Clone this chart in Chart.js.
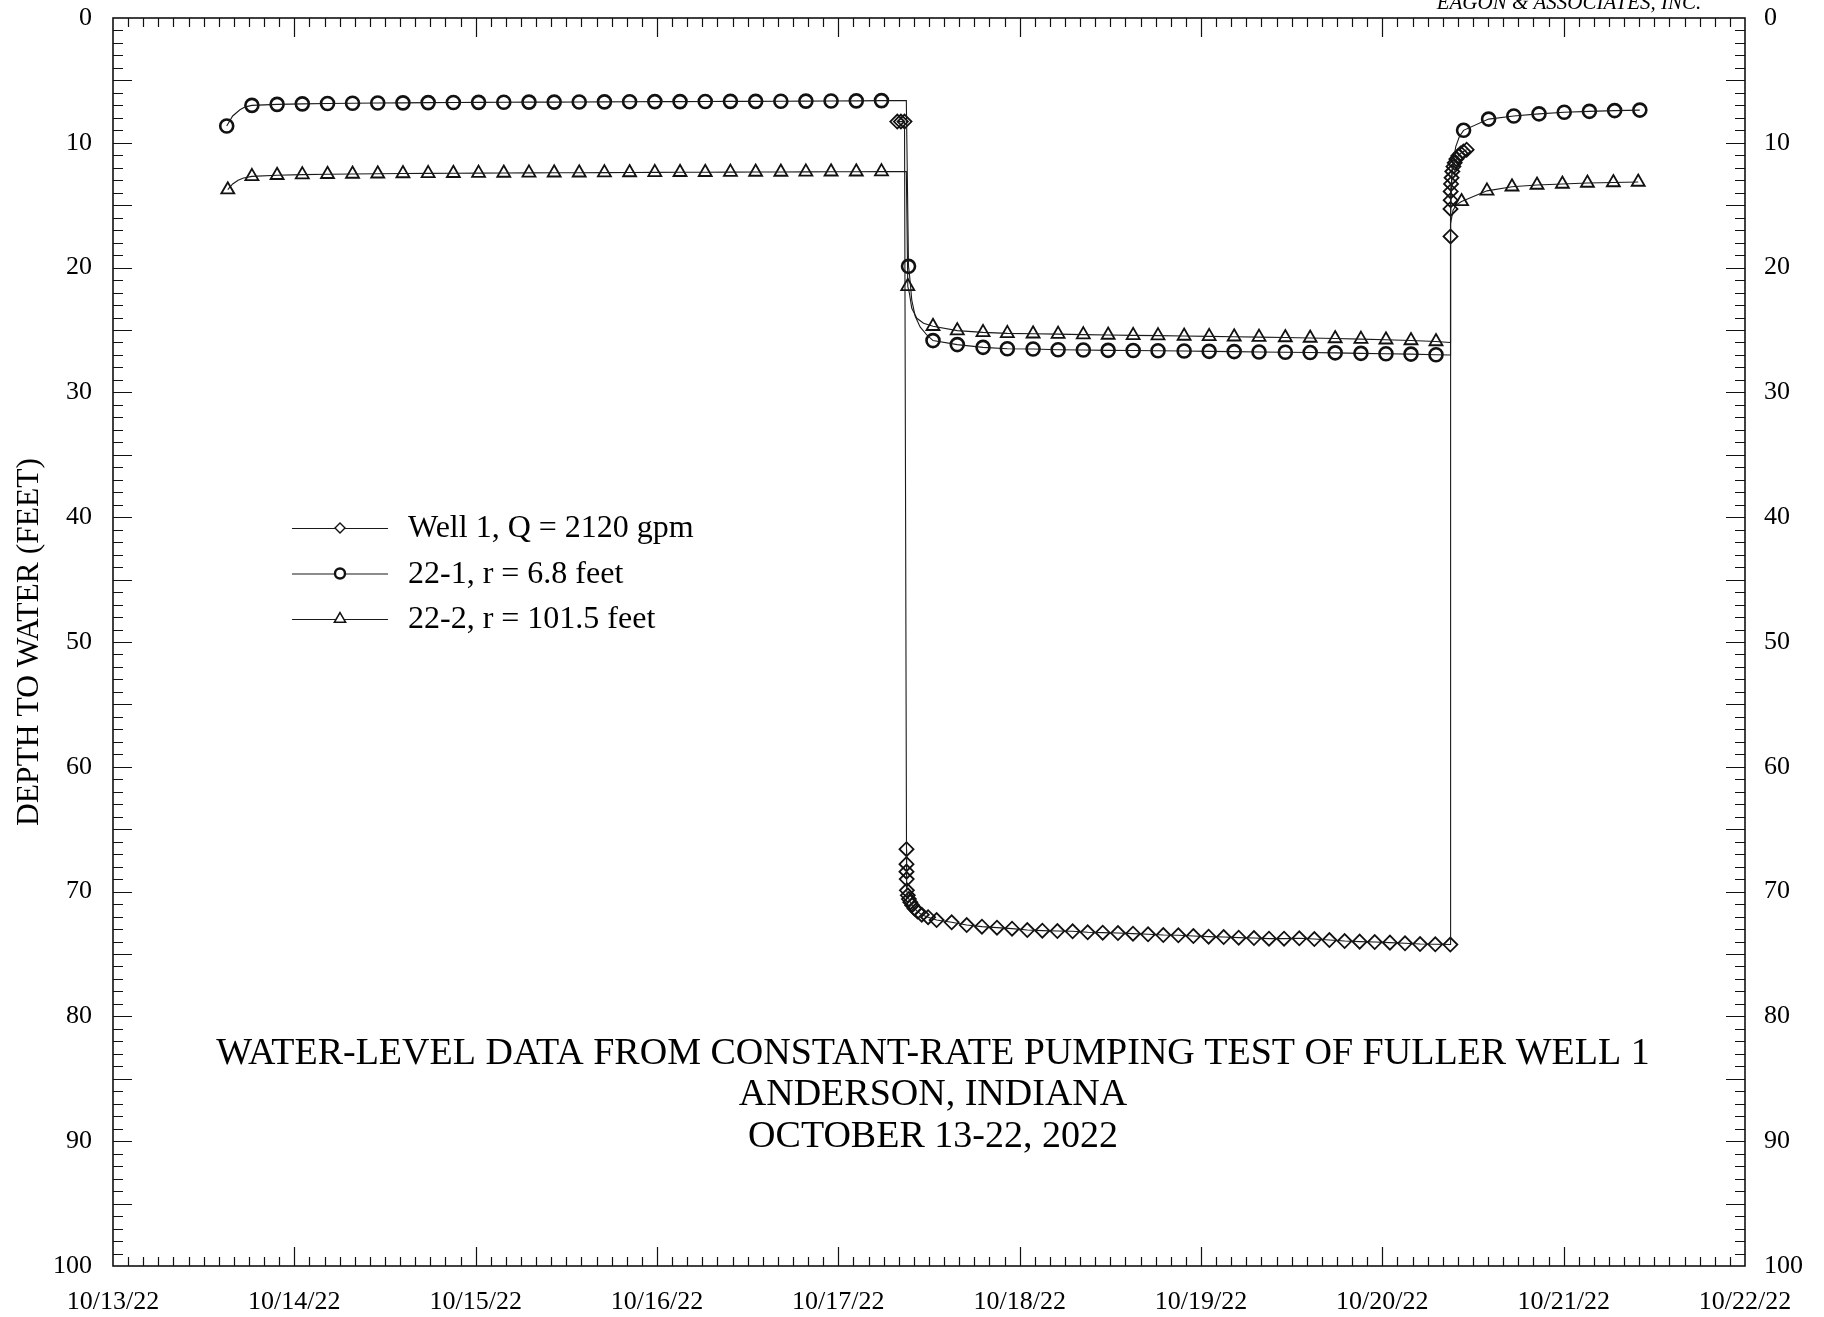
<!DOCTYPE html>
<html>
<head>
<meta charset="utf-8">
<title>Water-level data, Fuller Well 1</title>
<script src="https://cdn.jsdelivr.net/npm/chart.js@4.4.1/dist/chart.umd.min.js"></script>
<style>
  html, body { margin: 0; padding: 0; background: #fff; }
  canvas { display: block; }
</style>
</head>
<body>
<canvas id="wellChart" width="1824" height="1317"></canvas>
<script>
// time is in days since 10/13/22 00:00, depth to water in feet
const dateLabels = ['10/13/22', '10/14/22', '10/15/22', '10/16/22', '10/17/22',
                    '10/18/22', '10/19/22', '10/20/22', '10/21/22', '10/22/22'];

const legendLabels = ['Well 1, Q = 2120 gpm', '22-1, r = 6.8 feet', '22-2, r = 101.5 feet'];

const titleLines = [
  'WATER-LEVEL DATA FROM CONSTANT-RATE PUMPING TEST OF FULLER WELL 1',
  'ANDERSON, INDIANA',
  'OCTOBER 13-22, 2022'
];

// Well 1 (pumping well) - readings shown with a symbol
const well1Time = [4.325, 4.345, 4.365,
  4.376, 4.376, 4.376, 4.377, 4.378, 4.383, 4.389, 4.397, 4.407, 4.420, 4.437, 4.460, 4.495,
  4.542, 4.625, 4.708, 4.792, 4.875, 4.958, 5.042, 5.125, 5.208, 5.292,
  5.375, 5.458, 5.542, 5.625, 5.708, 5.792, 5.875, 5.958, 6.042, 6.125,
  6.208, 6.292, 6.375, 6.458, 6.542, 6.625, 6.708, 6.792, 6.875, 6.958,
  7.042, 7.125, 7.208, 7.292, 7.375,
  7.376, 7.376, 7.377, 7.377, 7.379, 7.382, 7.386, 7.392, 7.399, 7.408, 7.419, 7.432, 7.447, 7.465];
const well1Depth = [8.3, 8.3, 8.3,
  66.6, 67.8, 68.4, 69.0, 69.9, 70.3, 70.6, 70.85, 71.1, 71.35, 71.6, 71.85, 72.05,
  72.28, 72.46, 72.68, 72.81, 72.89, 72.97, 73.08, 73.13, 73.16, 73.18,
  73.26, 73.29, 73.32, 73.37, 73.42, 73.48, 73.50, 73.56, 73.61, 73.64,
  73.69, 73.72, 73.77, 73.77, 73.74, 73.80, 73.88, 73.96, 74.01, 74.04,
  74.09, 74.14, 74.20, 74.22, 74.24,
  17.5, 15.3, 14.6, 13.9, 13.3, 12.8, 12.3, 11.9, 11.6, 11.3, 11.05, 10.85, 10.7, 10.55];
const well1PathTime = [];
const well1PathDepth = [];

// 22-1, r = 6.8 feet
const obs1Time = [0.627, 0.766, 0.905, 1.044, 1.183, 1.321, 1.460, 1.599, 1.738, 1.877,
  2.016, 2.155, 2.294, 2.433, 2.571, 2.710, 2.849, 2.988, 3.127, 3.266,
  3.405, 3.544, 3.683, 3.821, 3.960, 4.099, 4.238,
  4.387,
  4.522, 4.656, 4.798, 4.932, 5.074, 5.212, 5.351, 5.488, 5.626, 5.763,
  5.907, 6.045, 6.183, 6.320, 6.465, 6.602, 6.740, 6.882, 7.020, 7.158, 7.296,
  7.448, 7.586, 7.725, 7.864, 8.003, 8.142, 8.281, 8.420];
const obs1Depth = [8.65, 7.00, 6.92, 6.88, 6.85, 6.83, 6.81, 6.80, 6.78, 6.77,
  6.76, 6.75, 6.74, 6.74, 6.73, 6.72, 6.71, 6.70, 6.70, 6.69,
  6.68, 6.68, 6.67, 6.66, 6.65, 6.64, 6.62,
  19.9,
  25.85, 26.17, 26.39, 26.50, 26.52, 26.58, 26.60, 26.63, 26.64, 26.66,
  26.68, 26.71, 26.73, 26.76, 26.78, 26.80, 26.83, 26.87, 26.90, 26.93, 26.98,
  9.0, 8.1, 7.85, 7.68, 7.55, 7.48, 7.42, 7.38];
// readings between the symbols (line only)
const obs1PathTime = [0.660, 0.700, 0.730, 4.375, 4.392, 4.405, 4.424, 4.451, 4.488,
  7.375, 7.376, 7.385, 7.405, 7.425];
const obs1PathDepth = [7.85, 7.35, 7.12, 6.62, 20.5, 22.6, 23.9, 24.75, 25.4,
  27.0, 16.0, 12.0, 10.3, 9.5];

// 22-2, r = 101.5 feet
const obs2Time = [0.633, 0.766, 0.905, 1.044, 1.183, 1.321, 1.460, 1.599, 1.738, 1.877,
  2.016, 2.155, 2.294, 2.433, 2.571, 2.710, 2.849, 2.988, 3.127, 3.266,
  3.405, 3.544, 3.683, 3.821, 3.960, 4.099, 4.238,
  4.383,
  4.522, 4.656, 4.798, 4.932, 5.074, 5.212, 5.351, 5.488, 5.626, 5.763,
  5.907, 6.045, 6.183, 6.320, 6.465, 6.602, 6.740, 6.882, 7.020, 7.158, 7.296,
  7.437, 7.577, 7.715, 7.853, 7.993, 8.131, 8.274, 8.411];
const obs2Depth = [13.76, 12.69, 12.60, 12.55, 12.52, 12.50, 12.48, 12.46, 12.45, 12.44,
  12.43, 12.42, 12.41, 12.40, 12.40, 12.39, 12.38, 12.37, 12.36, 12.36,
  12.35, 12.34, 12.34, 12.33, 12.32, 12.32, 12.31,
  21.5,
  24.70, 25.05, 25.19, 25.27, 25.30, 25.33, 25.37, 25.40, 25.43, 25.45,
  25.48, 25.51, 25.54, 25.57, 25.60, 25.64, 25.68, 25.73, 25.78, 25.84, 25.92,
  14.7, 13.85, 13.52, 13.38, 13.30, 13.22, 13.18, 13.14];
const obs2PathTime = [0.660, 0.690, 0.720, 4.375, 4.392, 4.405, 4.433, 4.470,
  7.375, 7.376, 7.390, 7.410];
const obs2PathDepth = [13.30, 13.00, 12.82, 12.31, 22.06, 23.26, 24.06, 24.46,
  26.0, 16.5, 15.4, 14.95];

const FONT = "'Liberation Serif', 'Times New Roman', serif";
const INK = '#111';
// wanted plot box on the 1824x1317 canvas
const PLOT = { left: 113, right: 1745, top: 18, bottom: 1266 };

function points(t, d) {
  return t.map((x, i) => ({ x: x, y: d[i] }));
}
function fullPath(t, d, pt, pd) {
  // stable sort keeps the reading order for equal times
  return points(t, d).concat(points(pt, pd)).sort((a, b) => a.x - b.x);
}

const series = [
  { time: well1Time, depth: well1Depth, pathTime: well1PathTime, pathDepth: well1PathDepth,
    style: 'rectRot', radius: 7, width: 1.8 },
  { time: obs1Time, depth: obs1Depth, pathTime: obs1PathTime, pathDepth: obs1PathDepth,
    style: 'circle', radius: 6.5, width: 2.6 },
  { time: obs2Time, depth: obs2Depth, pathTime: obs2PathTime, pathDepth: obs2PathDepth,
    style: 'triangle', radius: 7.5, width: 1.8 }
];

const datasets = [];
series.forEach(s => {
  datasets.push({
    data: fullPath(s.time, s.depth, s.pathTime, s.pathDepth),
    borderColor: '#1a1a1a',
    borderWidth: 1.1,
    pointRadius: 0,
    tension: 0,
    fill: false
  });
});
series.forEach(s => {
  datasets.push({
    data: points(s.time, s.depth),
    showLine: false,
    pointStyle: s.style,
    pointRadius: s.radius,
    pointBorderWidth: s.width,
    pointBorderColor: INK,
    pointBackgroundColor: 'rgba(255,255,255,0)'
  });
});

// frame and inward tick marks
const frameTicks = {
  id: 'frameTicks',
  beforeDatasetsDraw(chart) {
    const { ctx, chartArea: a, scales: { x, y } } = chart;
    ctx.save();
    ctx.strokeStyle = INK;
    ctx.lineWidth = 1.2;
    ctx.beginPath();
    for (let v = 1; v < 100; v++) {
      const py = Math.round(y.getPixelForValue(v)) + 0.5;
      const len = v % 5 === 0 ? 19 : 10;
      ctx.moveTo(a.left, py); ctx.lineTo(a.left + len, py);
      ctx.moveTo(a.right, py); ctx.lineTo(a.right - len, py);
    }
    for (let k = 1; k < 108; k++) {
      const px = Math.round(x.getPixelForValue(k / 12)) + 0.5;
      const len = k % 12 === 0 ? 19 : 9;
      ctx.moveTo(px, a.bottom); ctx.lineTo(px, a.bottom - len);
      ctx.moveTo(px, a.top); ctx.lineTo(px, a.top + len);
    }
    ctx.stroke();
    ctx.lineWidth = 1.6;
    ctx.strokeRect(a.left, a.top, a.right - a.left, a.bottom - a.top);
    ctx.restore();
  }
};

function drawSymbol(ctx, style, cx, cy, r) {
  ctx.beginPath();
  if (style === 'circle') {
    ctx.arc(cx, cy, r, 0, Math.PI * 2);
  } else if (style === 'rectRot') {
    ctx.moveTo(cx, cy - r); ctx.lineTo(cx + r, cy); ctx.lineTo(cx, cy + r); ctx.lineTo(cx - r, cy);
    ctx.closePath();
  } else {
    const h = r * Math.sqrt(3) / 2;
    ctx.moveTo(cx, cy - r); ctx.lineTo(cx + h, cy + r / 2); ctx.lineTo(cx - h, cy + r / 2);
    ctx.closePath();
  }
  ctx.fill();
  ctx.stroke();
}

// legend, caption and company name
const annotations = {
  id: 'annotations',
  afterDraw(chart) {
    const { ctx } = chart;
    ctx.save();
    ctx.fillStyle = '#000';

    ctx.font = 'italic 21px ' + FONT;
    ctx.textAlign = 'center';
    ctx.textBaseline = 'alphabetic';
    ctx.fillText('EAGON & ASSOCIATES, INC.', 1569, 9);

    ctx.font = '38px ' + FONT;
    ctx.textBaseline = 'middle';
    titleLines.forEach((line, i) => {
      ctx.fillText(line, 933, 1054 + i * 41.5);
    });

    const legendSizes = [5, 5, 6.5];
    const legendWidths = [1.4, 2.4, 1.5];
    ctx.textAlign = 'left';
    ctx.font = '32px ' + FONT;
    legendLabels.forEach((label, i) => {
      const yy = 528 + i * 45.5;
      ctx.strokeStyle = '#1a1a1a';
      ctx.lineWidth = 1.1;
      ctx.beginPath();
      ctx.moveTo(292, yy + 0.5); ctx.lineTo(388, yy + 0.5);
      ctx.stroke();
      ctx.fillStyle = '#fff';
      ctx.strokeStyle = INK;
      ctx.lineWidth = legendWidths[i];
      drawSymbol(ctx, series[i].style, 340, yy, legendSizes[i]);
      ctx.fillStyle = '#000';
      ctx.fillText(label, 408, yy + 1);
    });
    ctx.restore();
  }
};

const depthAxis = (position, pad, width) => ({
  type: 'linear',
  position: position,
  min: 0,
  max: 100,
  reverse: true,
  grid: { display: false, drawTicks: false },
  border: { display: false },
  ticks: { stepSize: 10, padding: pad, color: '#000', font: { size: 26 } },
  afterFit: scale => {
    scale.width = width;
    // tick padding would otherwise push the plot box down from the top
    scale.paddingTop = 0;
    scale.paddingBottom = 0;
  }
});

const yLeft = depthAxis('left', 21, PLOT.left);
yLeft.title = {
  display: true,
  text: 'DEPTH TO WATER (FEET)',
  color: '#000',
  font: { size: 31.5 },
  padding: { top: 11, bottom: 0 }
};

Chart.defaults.font.family = FONT;

new Chart(document.getElementById('wellChart'), {
  type: 'line',
  data: { datasets: datasets },
  options: {
    responsive: false,
    animation: false,
    events: [],
    layout: { padding: { top: PLOT.top, left: 0, right: 0, bottom: 0 } },
    plugins: {
      legend: { display: false },
      tooltip: { enabled: false }
    },
    scales: {
      x: {
        type: 'linear',
        position: 'bottom',
        min: 0,
        max: 9,
        grid: { display: false, drawTicks: false },
        border: { display: false },
        ticks: {
          stepSize: 1,
          autoSkip: false,
          maxRotation: 0,
          padding: 21,
          color: '#000',
          font: { size: 26 },
          callback: v => dateLabels[v] ?? ''
        },
        afterFit: scale => { scale.height = 1317 - PLOT.bottom; }
      },
      y: yLeft,
      y2: depthAxis('right', 19, 1824 - PLOT.right)
    }
  },
  plugins: [frameTicks, annotations]
});
</script>
</body>
</html>
